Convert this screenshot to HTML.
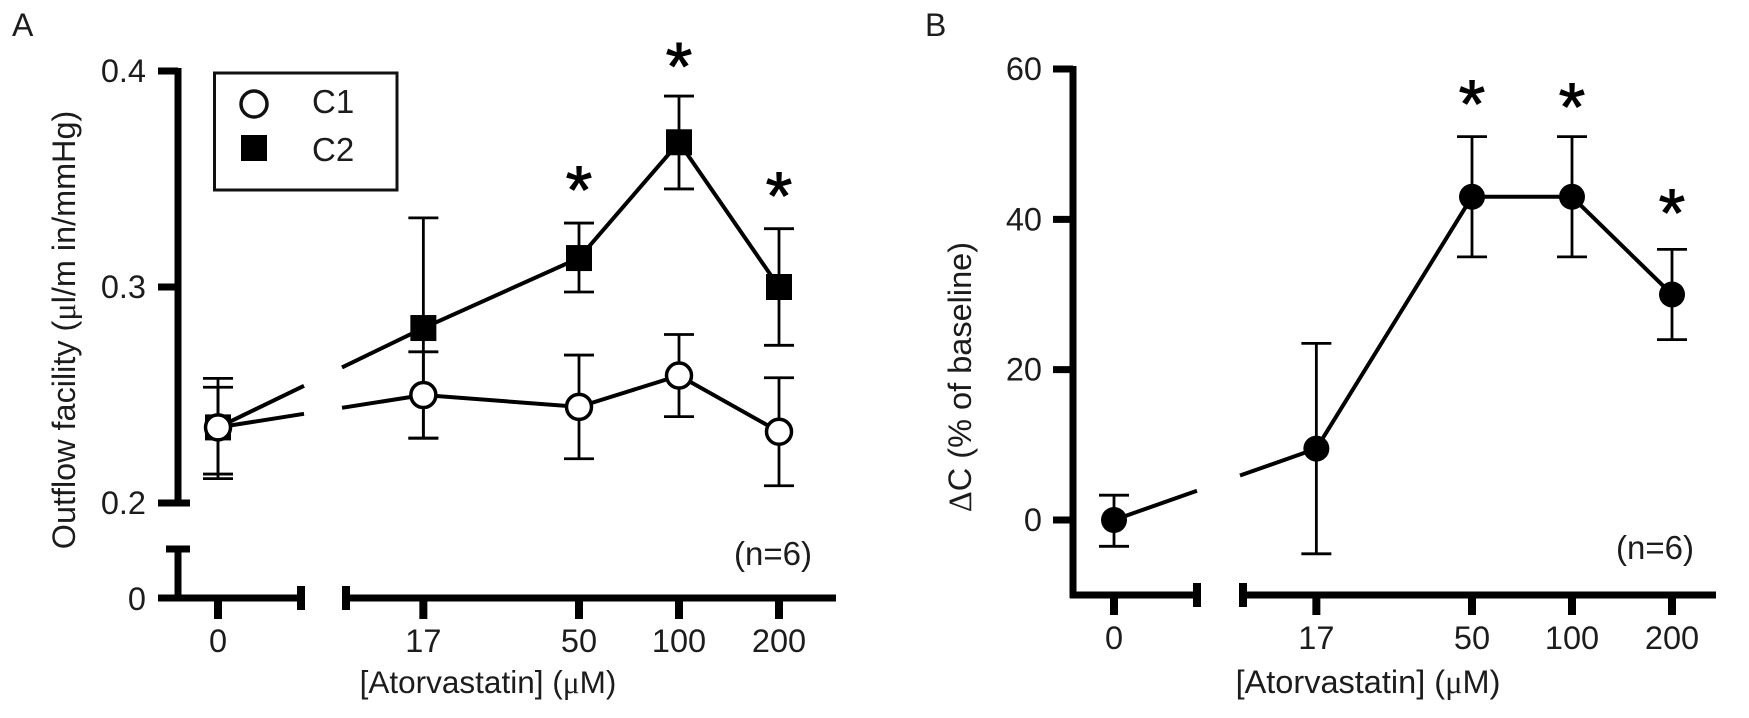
<!DOCTYPE html>
<html lang="en">
<head>
<meta charset="utf-8">
<title>Atorvastatin outflow facility</title>
<style>
html,body{margin:0;padding:0;background:#fff;width:1749px;height:718px;overflow:hidden}
svg{display:block}
text{font-family:"Liberation Sans",sans-serif;fill:#1c1c1c}
.serif{font-family:"Liberation Serif",serif}
</style>
</head>
<body>
<svg id="chart" xmlns="http://www.w3.org/2000/svg" width="1749" height="718" viewBox="0 0 1749 718">
  <rect width="1749" height="718" fill="#fff"/>
  <text x="12" y="36" font-size="32">A</text>
  <text x="925" y="36" font-size="32">B</text>
  <text transform="translate(75,330) rotate(-90)" text-anchor="middle" font-size="32.4">Outflow facility (<tspan class="serif">μ</tspan>l/m in/mmHg)</text>
  <text x="488" y="693" text-anchor="middle" font-size="31.5">[Atorvastatin] (<tspan class="serif">μ</tspan>M)</text>
  <text x="773" y="565" text-anchor="middle" font-size="33">(n=6)</text>
  <text transform="translate(971,377) rotate(-90)" text-anchor="middle" font-size="32.5"><tspan class="serif">Δ</tspan>C (% of baseline)</text>
  <text x="1368" y="693" text-anchor="middle" font-size="32.5">[Atorvastatin] (<tspan class="serif">μ</tspan>M)</text>
  <text x="1655" y="559" text-anchor="middle" font-size="33">(n=6)</text>
  <g>
    <rect x="214.5" y="73" width="182.5" height="117" fill="none" stroke="#111" stroke-width="3"/>
    <circle cx="254" cy="104" r="13" fill="#fff" stroke="#111" stroke-width="3.5"/>
    <rect x="241" y="135" width="26" height="26" fill="#000"/>
    <text x="312" y="113" font-size="33">C1</text>
    <text x="312" y="161" font-size="33">C2</text>
  </g>
  <g id="plot-a"></g>
  <g id="plot-b"></g>
</svg>
<script>
// Shared category data
const doses = [0, 17, 50, 100, 200];
// Panel A data (outflow facility)
const aYTicks = [0.2, 0.3, 0.4];
const c1Mean = [0.235, 0.250, 0.2445, 0.259, 0.233];
const c1Hi = [0.2577, 0.270, 0.2685, 0.278, 0.258];
const c1Lo = [0.2113, 0.230, 0.2205, 0.240, 0.208];
const c2Mean = [0.235, 0.281, 0.3134, 0.367, 0.300];
const c2Hi = [0.2536, 0.332, 0.3296, 0.3884, 0.327];
const c2Lo = [0.2134, 0.230, 0.2977, 0.3454, 0.273];
const aStarDoses = [50, 100, 200];
const aStarValues = [0.3515, 0.4085, 0.3485];
// Panel B data (percent change)
const bYTicks = [0, 20, 40, 60];
const bMean = [0, 9.5, 43, 43, 30];
const bHi = [3.3, 23.5, 51, 51, 36];
const bLo = [-3.5, -4.5, 35, 35, 24];
const bStarDoses = [50, 100, 200];
const bStarValues = [57.2, 56.8, 42.7];

const NS = 'http://www.w3.org/2000/svg';
const axX = d => d === 0 ? 218 : 679 + 100 * Math.log2(d / 100);
const axY = v => 287 - (v - 0.3) * 2160;
const bxX = d => d === 0 ? 1114 : 1572 + 100 * Math.log2(d / 100);
const bxY = v => 520 - v * 7.517;
const plotA = document.getElementById('plot-a');
const plotB = document.getElementById('plot-b');

function draw(parent, tag, attrs, text) {
  const el = document.createElementNS(NS, tag);
  for (const k in attrs) el.setAttribute(k, attrs[k]);
  if (text !== undefined) el.textContent = text;
  parent.appendChild(el);
  return el;
}
function seg(parent, x1, y1, x2, y2, w) {
  return draw(parent, 'line', {x1: x1, y1: y1, x2: x2, y2: y2, stroke: '#000', 'stroke-width': w});
}
function label(parent, x, y, anchor, str) {
  return draw(parent, 'text', {x: x, y: y, 'text-anchor': anchor, 'font-size': 32.5}, str);
}
function markName(el, name) {
  
  
  return el;
}
// Line through the means, broken across the axis gap between dose 0 and the log-scaled doses
function seriesPath(means, X, Y, gapA, gapB) {
  const x0 = X(doses[0]), y0 = Y(means[0]), x1 = X(doses[1]), y1 = Y(means[1]);
  const at = x => y0 + (y1 - y0) * (x - x0) / (x1 - x0);
  let d = 'M' + x0 + ' ' + y0 + 'L' + gapA + ' ' + at(gapA) + 'M' + gapB + ' ' + at(gapB);
  for (let i = 1; i < doses.length; i++) d += 'L' + X(doses[i]) + ' ' + Y(means[i]);
  return d;
}
function errorBars(parent, means, hi, lo, X, Y, prefix) {
  doses.forEach((dose, i) => {
    const x = X(dose);
    const g = markName(draw(parent, 'g', {}), prefix + '-error-bar-' + dose);
    seg(g, x, Y(lo[i]), x, Y(hi[i]), 2.8);
    seg(g, x - 15, Y(hi[i]), x + 15, Y(hi[i]), 2.8);
    seg(g, x - 15, Y(lo[i]), x + 15, Y(lo[i]), 2.8);
  });
}
function stars(parent, ds, vs, X, Y, prefix) {
  ds.forEach((dose, i) => {
    const s = draw(parent, 'text', {x: X(dose), y: Y(vs[i]) + 37, 'text-anchor': 'middle', 'font-size': 68, stroke: '#000', 'stroke-width': 1}, '*');
    s.style.fill = '#000';
    markName(s, prefix + '-significance-star-' + dose);
  });
}

/* ---------- Panel A axes ---------- */
markName(seg(plotA, 178, axY(0.4) - 3, 178, axY(0.2) + 3, 7), 'panel-a-y-axis-upper');
aYTicks.forEach(v => {
  markName(seg(plotA, 158, axY(v), v === 0.2 ? 190 : 178, axY(v), 7), 'panel-a-y-tick-' + v);
  markName(label(plotA, 146, axY(v) + 11, 'end', v.toFixed(1)), 'panel-a-y-label-' + v);
});
markName(seg(plotA, 178, 549, 178, 598, 7), 'panel-a-y-axis-lower');
markName(seg(plotA, 166, 549, 190, 549, 7), 'panel-a-y-break-cap');
markName(seg(plotA, 158, 598, 301, 598, 7), 'panel-a-x-axis-left');
markName(seg(plotA, 301, 586, 301, 610, 8), 'panel-a-x-break-cap-left');
markName(seg(plotA, 346, 586, 346, 610, 8), 'panel-a-x-break-cap-right');
markName(seg(plotA, 346, 598, 836, 598, 7), 'panel-a-x-axis-right');
markName(label(plotA, 146, 610, 'end', '0'), 'panel-a-y-label-0');
doses.forEach(d => {
  markName(seg(plotA, axX(d), 598, axX(d), 619, 8), 'panel-a-x-tick-' + d);
  markName(label(plotA, axX(d), 652, 'middle', String(d)), 'panel-a-x-label-' + d);
});

/* ---------- Panel A series ---------- */
errorBars(plotA, c2Mean, c2Hi, c2Lo, axX, axY, 'c2');
errorBars(plotA, c1Mean, c1Hi, c1Lo, axX, axY, 'c1');
markName(draw(plotA, 'path', {d: seriesPath(c1Mean, axX, axY, 304, 342), fill: 'none', stroke: '#000', 'stroke-width': 4}), 'c1-line');
markName(draw(plotA, 'path', {d: seriesPath(c2Mean, axX, axY, 304, 342), fill: 'none', stroke: '#000', 'stroke-width': 4}), 'c2-line');
doses.forEach((d, i) => {
  markName(draw(plotA, 'rect', {x: axX(d) - 13, y: axY(c2Mean[i]) - 13, width: 26, height: 26, fill: '#000'}), 'c2-point-' + d);
});
doses.forEach((d, i) => {
  markName(draw(plotA, 'circle', {cx: axX(d), cy: axY(c1Mean[i]), r: 12.5, fill: '#fff', stroke: '#000', 'stroke-width': 3.5}), 'c1-point-' + d);
});
stars(plotA, aStarDoses, aStarValues, axX, axY, 'panel-a');

/* ---------- Panel B axes ---------- */
markName(seg(plotB, 1073, bxY(60) - 3, 1073, 598, 7), 'panel-b-y-axis');
bYTicks.forEach(v => {
  markName(seg(plotB, 1053, bxY(v), 1073, bxY(v), 7), 'panel-b-y-tick-' + v);
  markName(label(plotB, 1042, bxY(v) + 11, 'end', String(v)), 'panel-b-y-label-' + v);
});
markName(seg(plotB, 1070, 595, 1197, 595, 7), 'panel-b-x-axis-left');
markName(seg(plotB, 1197, 583, 1197, 607, 8), 'panel-b-x-break-cap-left');
markName(seg(plotB, 1243, 583, 1243, 607, 8), 'panel-b-x-break-cap-right');
markName(seg(plotB, 1243, 595, 1716, 595, 7), 'panel-b-x-axis-right');
doses.forEach(d => {
  markName(seg(plotB, bxX(d), 595, bxX(d), 615, 8), 'panel-b-x-tick-' + d);
  markName(label(plotB, bxX(d), 649, 'middle', String(d)), 'panel-b-x-label-' + d);
});

/* ---------- Panel B series ---------- */
errorBars(plotB, bMean, bHi, bLo, bxX, bxY, 'panel-b');
markName(draw(plotB, 'path', {d: seriesPath(bMean, bxX, bxY, 1197, 1240), fill: 'none', stroke: '#000', 'stroke-width': 4}), 'panel-b-line');
doses.forEach((d, i) => {
  markName(draw(plotB, 'circle', {cx: bxX(d), cy: bxY(bMean[i]), r: 13, fill: '#000'}), 'panel-b-point-' + d);
});
stars(plotB, bStarDoses, bStarValues, bxX, bxY, 'panel-b');
</script>
</body>
</html>
